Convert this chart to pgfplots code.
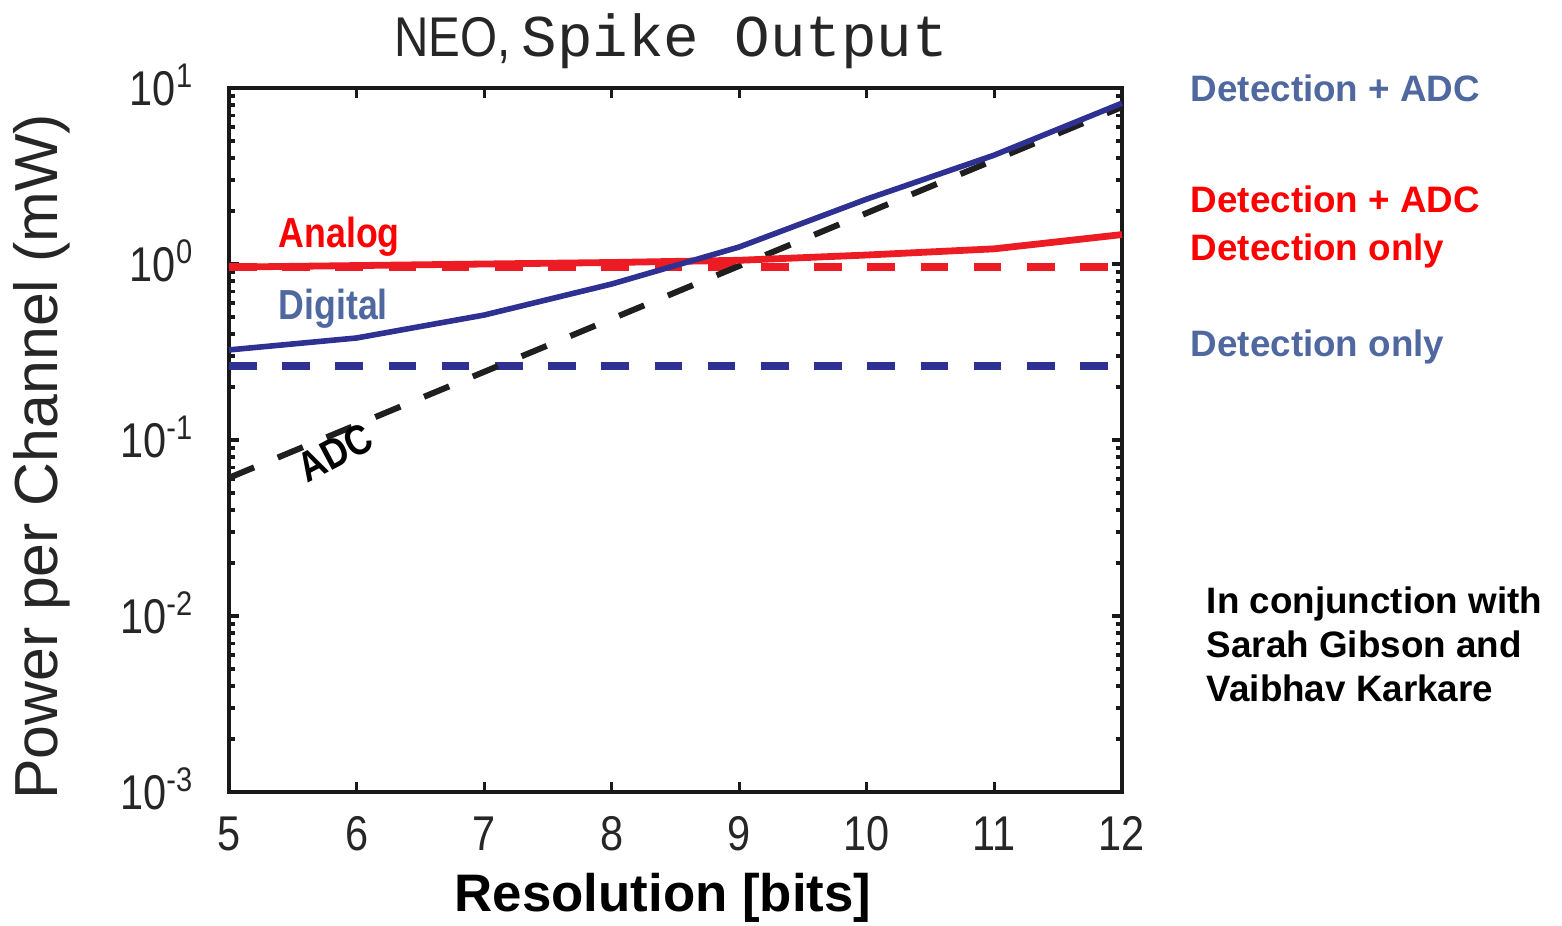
\documentclass[border=0pt]{standalone}
\usepackage{fontspec}
\setmainfont{Liberation Sans}
\setmonofont{Liberation Mono}
\newfontfamily\narrowfont[FakeStretch=0.85]{Liberation Sans}
\usepackage{pgfplots}
\pgfplotsset{compat=1.18}
\definecolor{navy}{HTML}{2E3192}
\definecolor{mred}{HTML}{ED1C24}
\definecolor{slate}{HTML}{5068A0}
\definecolor{tred}{HTML}{FF0000}
\begin{document}
\begin{tikzpicture}
\path[use as bounding box] (-57.25pt,-33.25pt) rectangle (333.25pt,198pt);
\begin{axis}[
  at={(0,0)}, anchor=south west,
  scale only axis, width=223.25pt, height=176pt,
  xmin=5, xmax=12, ymode=log, ymin=1e-3, ymax=10,
  xtick={5,6,7,8,9,10,11,12},
  ytick={1e-3,1e-2,1e-1,1,10},
  yticklabels={{10\textsuperscript{-3}},{10\textsuperscript{-2}},{10\textsuperscript{-1}},{10\textsuperscript{0}},{10\textsuperscript{1}}},
  /pgf/number format/assume math mode=true,
  axis line style={line width=1pt, black!90},
  tick style={black!90, line width=0.8pt},
  major tick length=2.5pt, minor tick length=1.5pt,
  tick align=inside,
  xticklabel style={font=\narrowfont\fontsize{12.2}{14}\selectfont, text=black!85, anchor=base, inner sep=0pt, yshift=-14.5pt},
  yticklabel style={font=\narrowfont\fontsize{12.2}{14}\selectfont, text=black!85, anchor=base east, inner sep=0pt, xshift=-8.5pt, yshift=-4.25pt},
  clip=false,
]
% red dashed: Analog detection only
\addplot[mred, line width=2pt, dash pattern=on 6.9pt off 6.4pt] coordinates {(5,0.96) (11.95,0.96)};
% blue dashed: Digital detection only
\addplot[navy, line width=2.1pt, dash pattern=on 6.9pt off 6.4pt] coordinates {(5,0.263) (11.95,0.263)};
% black dashed: ADC
\addplot[black!88, line width=1.5pt, dash pattern=on 6.8pt off 6.4pt] coordinates {
  (5,0.061) (6,0.122) (7,0.244) (8,0.488) (9,0.976) (10,1.95) (11,3.9) (12,7.8)};
% red solid: Analog detection + ADC
\addplot[mred, line width=1.7pt] coordinates {
  (5,0.96) (6,0.98) (7,1.0) (8,1.02) (9,1.05) (10,1.125) (11,1.22) (12,1.47)};
% blue solid: Digital detection + ADC
\addplot[navy, line width=1.4pt] coordinates {
  (5,0.325) (6,0.38) (7,0.513) (8,0.77) (9,1.25) (10,2.34) (11,4.16) (12,8.2)};
\end{axis}
% title
\node[anchor=base, inner sep=0pt, text=black!85] at (110.5pt,184pt) {{\narrowfont\fontsize{14}{16}\selectfont NEO,} {\ttfamily\fontsize{14.8}{16}\selectfont Spike Output}};
% axis labels
\node[rotate=90, inner sep=0pt, text=black!85, font=\fontsize{15.2}{17}\selectfont] at (-46.75pt,83.75pt) {Power per Channel (mW)};
\node[inner sep=0pt, font=\bfseries\fontsize{13.2}{15}\selectfont] at (108.5pt,-26.5pt) {Resolution [bits]};
% in-plot labels
\node[anchor=base west, inner sep=0pt, text=tred, font=\narrowfont\bfseries\fontsize{10.5}{12}\selectfont] at (12.25pt,136.25pt) {Analog};
\node[anchor=base west, inner sep=0pt, text=slate, font=\narrowfont\bfseries\fontsize{10.5}{12}\selectfont] at (12.25pt,118.25pt) {Digital};
\node[rotate=28, inner sep=0pt, text=black, font=\narrowfont\bfseries\fontsize{10.5}{12}\selectfont] at (26.5pt,84.75pt) {ADC};
% right annotations
\begin{scope}[every node/.style={anchor=base west, inner sep=0pt, font=\bfseries\fontsize{9.2}{11}\selectfont}]
\node[text=slate] at (240.25pt,172.75pt) {Detection + ADC};
\node[text=tred] at (240.25pt,145pt) {Detection + ADC};
\node[text=tred] at (240.25pt,133pt) {Detection only};
\node[text=slate] at (240.25pt,109pt) {Detection only};
\node[text=black] at (244.25pt,44.75pt) {In conjunction with};
\node[text=black] at (244.25pt,33.75pt) {Sarah Gibson and};
\node[text=black] at (244.25pt,22.75pt) {Vaibhav Karkare};
\end{scope}
\end{tikzpicture}
\end{document}
